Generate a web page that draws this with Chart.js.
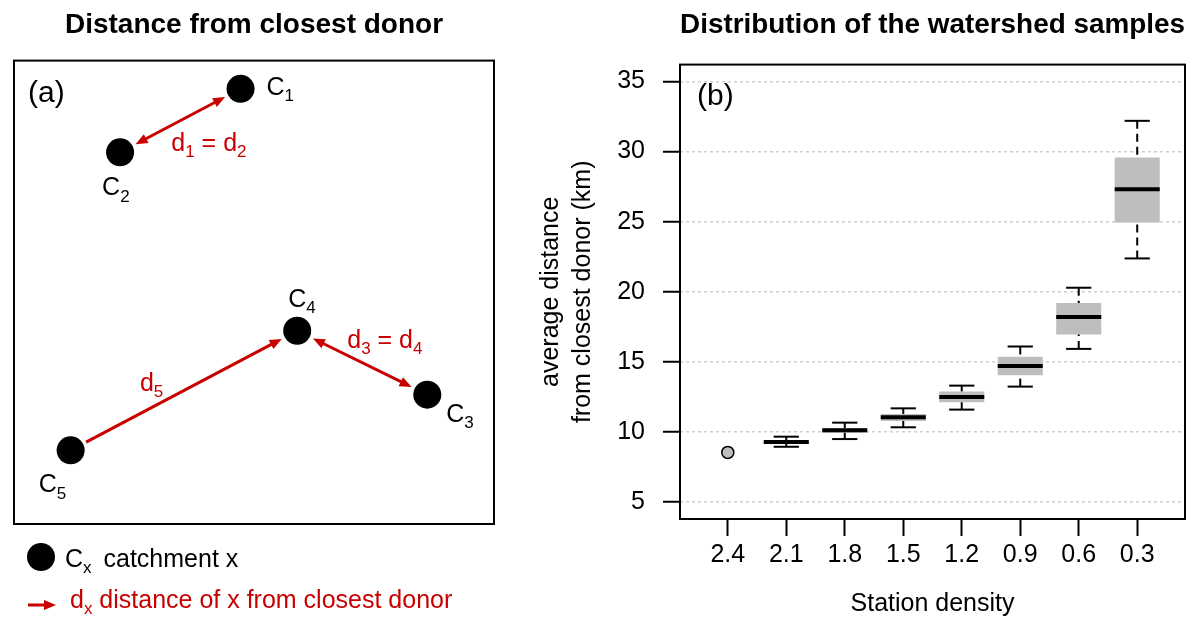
<!DOCTYPE html>
<html>
<head>
<meta charset="utf-8">
<script src="https://cdn.jsdelivr.net/npm/chart.js@4.4.1/dist/chart.umd.min.js"></script>
<style>
  html, body { margin: 0; padding: 0; background: #fff; width: 1199px; height: 631px; overflow: hidden; }
  canvas { position: absolute; top: 0; }
  #left { left: 0; }
  #right { left: 500px; }
</style>
</head>
<body>
<canvas id="left" width="500" height="631"></canvas>
<canvas id="right" width="699" height="631"></canvas>
<script>
const FONT = '"Liberation Sans", Arial, sans-serif'
const RED = '#c80000'

// panel (a): catchments, positions in % of the frame
const catchNames = ['1', '2', '3', '4', '5']
const catchX = [47.2, 22.1, 86.1, 59.0, 11.8]
const catchY = [93.9, 80.2, 27.9, 41.7, 15.9]
// closest-donor links (indices into the catchment arrays)
const arrowFrom = [1, 4, 3]
const arrowTo = [0, 3, 2]
const arrowBoth = [true, false, true]
const arrowText = [
  [['d', '1'], ' = ', ['d', '2']],
  [['d', '5']],
  [['d', '3'], ' = ', ['d', '4']]
]

// panel (b): boxplot stats per station density
const densities = ['2.4', '2.1', '1.8', '1.5', '1.2', '0.9', '0.6', '0.3']
const whiskerLow = [null, 8.95, 9.5, 10.34, 11.6, 13.24, 15.93, 22.38]
const q1 = [null, 9.19, 9.95, 10.79, 12.12, 14.05, 16.95, 24.95]
const median = [null, 9.29, 10.12, 11.05, 12.5, 14.71, 18.21, 27.31]
const q3 = [null, 9.36, 10.29, 11.29, 12.9, 15.36, 19.21, 29.57]
const whiskerHigh = [null, 9.67, 10.67, 11.69, 13.31, 16.1, 20.29, 32.19]
const singleValue = [8.55, null, null, null, null, null, null, null]
const yTicks = [5, 10, 15, 20, 25, 30, 35]

// label placement (px), kept apart from the data
const catchLabelOffset = [[26, 6], [-18, 43], [19, 27], [-9, -24], [-32, 42]]
const arrowTextOffset = [[-9, 30], [-44, 0], [-15, -15]]

// draws text where [main, sub] pairs get a subscript
function richText(ctx, x, y, parts, color, size) {
  ctx.save()
  ctx.fillStyle = color
  ctx.textBaseline = 'alphabetic'
  ctx.textAlign = 'left'
  for (const p of parts) {
    const [main, sub] = Array.isArray(p) ? p : [p, '']
    ctx.font = `${size}px ${FONT}`
    ctx.fillText(main, x, y)
    x += ctx.measureText(main).width
    if (sub) {
      ctx.font = `${Math.round(size * 0.68)}px ${FONT}`
      ctx.fillText(sub, x, y + size * 0.25)
      x += ctx.measureText(sub).width
    }
  }
  ctx.restore()
  return x
}

function arrowHead(ctx, x, y, a) {
  const L = 12, W = 5
  ctx.beginPath()
  ctx.moveTo(x, y)
  ctx.lineTo(x - L * Math.cos(a) + W * Math.sin(a), y - L * Math.sin(a) - W * Math.cos(a))
  ctx.lineTo(x - L * Math.cos(a) - W * Math.sin(a), y - L * Math.sin(a) + W * Math.cos(a))
  ctx.closePath()
  ctx.fill()
}

function arrow(ctx, x1, y1, x2, y2, both) {
  const a = Math.atan2(y2 - y1, x2 - x1)
  const c = Math.cos(a), s = Math.sin(a)
  ctx.save()
  ctx.strokeStyle = RED
  ctx.fillStyle = RED
  ctx.lineWidth = 3
  ctx.beginPath()
  ctx.moveTo(both ? x1 + 8 * c : x1, both ? y1 + 8 * s : y1)
  ctx.lineTo(x2 - 8 * c, y2 - 8 * s)
  ctx.stroke()
  arrowHead(ctx, x2, y2, a)
  if (both) arrowHead(ctx, x1, y1, a + Math.PI)
  ctx.restore()
}

const diagramPlugin = {
  id: 'diagram',
  afterDraw(chart) {
    const { ctx, chartArea: area, scales: { x, y } } = chart
    const px = catchX.map(v => x.getPixelForValue(v))
    const py = catchY.map(v => y.getPixelForValue(v))
    const gap = 17.5

    arrowFrom.forEach((f, k) => {
      const t = arrowTo[k]
      const dx = px[t] - px[f], dy = py[t] - py[f]
      const len = Math.hypot(dx, dy)
      const ux = dx / len, uy = dy / len
      arrow(ctx, px[f] + ux * gap, py[f] + uy * gap, px[t] - ux * gap, py[t] - uy * gap, arrowBoth[k])
      const mx = (px[f] + px[t]) / 2 + arrowTextOffset[k][0]
      const my = (py[f] + py[t]) / 2 + arrowTextOffset[k][1]
      richText(ctx, mx, my, arrowText[k], RED, 25)
    })

    catchNames.forEach((n, i) => {
      richText(ctx, px[i] + catchLabelOffset[i][0], py[i] + catchLabelOffset[i][1], [['C', n]], '#000', 25)
    })

    ctx.save()
    ctx.strokeStyle = '#000'
    ctx.lineWidth = 2
    ctx.strokeRect(area.left, area.top, area.right - area.left, area.bottom - area.top)
    ctx.fillStyle = '#000'
    ctx.font = `30px ${FONT}`
    ctx.textBaseline = 'middle'
    ctx.fillText('(a)', area.left + 14, area.top + 33)

    // legend under the frame
    ctx.beginPath()
    ctx.arc(area.left + 27, area.bottom + 33, 14, 0, Math.PI * 2)
    ctx.fill()
    ctx.restore()
    richText(ctx, area.left + 51, area.bottom + 43, [['C', 'x'], ' \u2009catchment x'], '#000', 25)
    arrow(ctx, area.left + 14, area.bottom + 81, area.left + 42, area.bottom + 81, false)
    richText(ctx, area.left + 56, area.bottom + 84, [['d', 'x'], ' distance of x from closest donor'], RED, 25)
  }
}

new Chart(document.getElementById('left'), {
  type: 'scatter',
  data: {
    datasets: [{
      data: catchX.map((v, i) => ({ x: v, y: catchY[i] })),
      pointRadius: 14,
      pointHoverRadius: 14,
      backgroundColor: '#000',
      borderWidth: 0
    }]
  },
  options: {
    responsive: false,
    animation: false,
    events: [],
    layout: { autoPadding: false, padding: { left: 14, right: 6, top: 0, bottom: 107 } },
    plugins: {
      legend: { display: false },
      tooltip: { enabled: false },
      title: {
        display: true,
        fullSize: false,
        text: 'Distance from closest donor',
        color: '#000',
        font: { family: FONT, size: 28, weight: 'bold', lineHeight: 1.2 },
        padding: { top: 8, bottom: 19 }
      }
    },
    scales: {
      x: { type: 'linear', display: false, min: 0, max: 100 },
      y: { type: 'linear', display: false, min: 0, max: 100 }
    }
  },
  plugins: [diagramPlugin]
})

const boxPlugin = {
  id: 'boxes',
  afterDatasetsDraw(chart) {
    const { ctx, scales: { x, y } } = chart
    const bars = chart.getDatasetMeta(0).data
    const seg = (x1, y1, x2, y2) => { ctx.beginPath(); ctx.moveTo(x1, y1); ctx.lineTo(x2, y2); ctx.stroke() }
    ctx.save()
    ctx.strokeStyle = '#000'
    densities.forEach((d, i) => {
      if (median[i] == null) return
      const cx = x.getPixelForValue(i + 1)
      const w = bars[i].width
      const cap = w * 0.28
      const yHi = y.getPixelForValue(whiskerHigh[i])
      const yLo = y.getPixelForValue(whiskerLow[i])
      ctx.lineWidth = 2
      ctx.setLineDash([8, 5])
      seg(cx, yHi, cx, y.getPixelForValue(q3[i]))
      seg(cx, yLo, cx, y.getPixelForValue(q1[i]))
      ctx.setLineDash([])
      seg(cx - cap, yHi, cx + cap, yHi)
      seg(cx - cap, yLo, cx + cap, yLo)
      ctx.lineWidth = 4
      const ym = y.getPixelForValue(median[i])
      seg(cx - w / 2, ym, cx + w / 2, ym)
    })
    ctx.restore()
  },
  afterDraw(chart) {
    const { ctx, chartArea: area } = chart
    ctx.save()
    ctx.strokeStyle = '#000'
    ctx.lineWidth = 2
    ctx.strokeRect(area.left, area.top, area.right - area.left, area.bottom - area.top)
    ctx.fillStyle = '#000'
    ctx.font = `30px ${FONT}`
    ctx.textBaseline = 'middle'
    ctx.fillText('(b)', area.left + 17, area.top + 32)
    ctx.restore()
  }
}

const tickFont = { family: FONT, size: 25 }

new Chart(document.getElementById('right'), {
  type: 'bar',
  data: {
    datasets: [
      {
        type: 'bar',
        data: densities.map((d, i) => ({ x: i + 1, y: q1[i] == null ? null : [q1[i], q3[i]] })),
        backgroundColor: '#bebebe',
        borderWidth: 0,
        barPercentage: 0.77,
        categoryPercentage: 1,
        grouped: false
      },
      {
        type: 'scatter',
        data: densities.map((d, i) => ({ x: i + 1, y: singleValue[i] })),
        pointRadius: 6,
        pointHoverRadius: 6,
        backgroundColor: '#bebebe',
        borderColor: '#000',
        borderWidth: 1.5
      }
    ]
  },
  options: {
    responsive: false,
    animation: false,
    events: [],
    layout: { padding: { left: 0, right: 14, top: 0, bottom: 0 } },
    plugins: {
      legend: { display: false },
      tooltip: { enabled: false },
      title: {
        display: true,
        fullSize: false,
        text: 'Distribution of the watershed samples',
        color: '#000',
        font: { family: FONT, size: 28, weight: 'bold', lineHeight: 1.2 },
        padding: { top: 8, bottom: 23 }
      }
    },
    scales: {
      x: {
        type: 'linear',
        min: 0.183,
        max: 8.817,
        offset: false,
        afterBuildTicks: s => { s.ticks = densities.map((d, i) => ({ value: i + 1 })) },
        afterFit: s => { s.height = 112 },
        ticks: {
          callback: v => densities[v - 1],
          font: tickFont,
          color: '#000',
          padding: 4,
          maxRotation: 0,
          autoSkip: false
        },
        grid: { offset: false, drawOnChartArea: false, tickLength: 17, tickColor: '#000', tickWidth: 2 },
        border: { display: false },
        title: { display: true, text: 'Station density', color: '#000', font: tickFont, padding: { top: 0, bottom: 12 } }
      },
      y: {
        type: 'linear',
        min: 3.8,
        max: 36.2,
        afterBuildTicks: s => { s.ticks = yTicks.map(v => ({ value: v })) },
        afterFit: s => { s.width = 180 },
        ticks: { font: tickFont, color: '#000', padding: 18 },
        grid: { color: '#cfcfcf', lineWidth: 1.5, tickLength: 17, tickColor: '#000', tickWidth: 2, tickBorderDash: [] },
        border: { display: false, dash: [3, 3] },
        title: {
          display: true,
          text: ['average distance', 'from closest donor (km)'],
          color: '#000',
          font: { family: FONT, size: 25, lineHeight: 1.28 },
          padding: { top: 35, bottom: 0 }
        }
      }
    }
  },
  plugins: [boxPlugin]
})
</script>
</body>
</html>
